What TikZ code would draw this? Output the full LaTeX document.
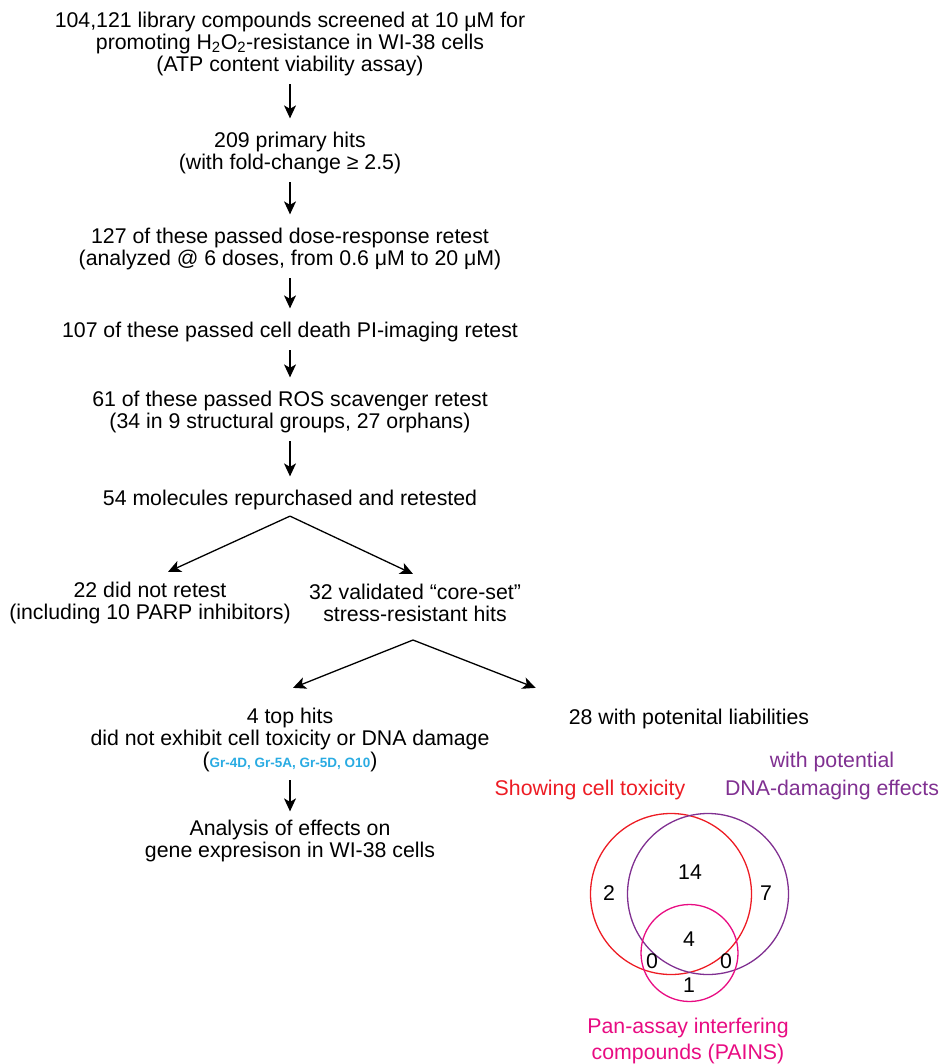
\documentclass[tikz,border=0pt]{standalone}
\usepackage{fontspec}
\setmainfont{Liberation Sans}
\usetikzlibrary{arrows.meta}

\definecolor{toxred}{RGB}{237,28,36}
\definecolor{dnapurple}{RGB}{128,48,145}
\definecolor{painspink}{RGB}{232,12,130}
\definecolor{hitblue}{RGB}{41,171,226}

\tikzset{
  stage/.style={align=center, inner sep=0pt, font=\fontsize{21.3}{22}\selectfont},
  flow/.style={draw, line width=1.3pt, -{Stealth[length=13pt,width=12pt,inset=3.5pt]}},
  down/.style={flow, shorten <=8pt, shorten >=13.5pt},
  setring/.style={circle, draw, line width=1.3pt, inner sep=0pt},
  count/.style={inner sep=0pt, font=\fontsize{21.3}{22}\selectfont},
}

\begin{document}
\begin{tikzpicture}[x=1pt, y=-1pt]
  \useasboundingbox (0,0) rectangle (940,1064);

  % --- Screening funnel ---
  \node[stage] (screen) at (290,44) {104,121 library compounds screened at 10 μM for\\
    promoting H\textsubscript{2}O\textsubscript{2}-resistance in WI-38 cells\\
    (ATP content viability assay)};
  \node[stage] (hits) at (290,153) {209 primary hits\\(with fold-change ≥ 2.5)};
  \node[stage] (dose) at (290,249) {127 of these passed dose-response retest\\
    (analyzed @ 6 doses, from 0.6 μM to 20 μM)};
  \node[stage] (pi) at (290,332) {107 of these passed cell death PI-imaging retest};
  \node[stage] (ros) at (290,412) {61 of these passed ROS scavenger retest\\
    (34 in 9 structural groups, 27 orphans)};
  \node[stage] (mol) at (290,500) {54 molecules repurchased and retested};

  \draw[down] (screen) -- (hits);
  \draw[down] (hits) -- (dose);
  \draw[down] (dose) -- (pi);
  \draw[down] (pi) -- (ros);
  \draw[down] (ros) -- (mol);

  % --- First split ---
  \node[stage] (notre) at (150,603) {22 did not retest\\(including 10 PARP inhibitors)};
  \node[stage] (core) at (415,603) {32 validated “core-set”\\stress-resistant hits};
  \coordinate (fork1) at ([yshift=-6pt]mol.south);
  \draw[flow] (fork1) -- ([xshift=18pt,yshift=10pt]notre.north);
  \draw[flow] (fork1) -- ([xshift=-2pt,yshift=10pt]core.north);

  % --- Second split ---
  \node[stage] (top4) at (290,740) {4 top hits\\did not exhibit cell toxicity or DNA damage\\
    ({\fontsize{13.5}{22}\selectfont\bfseries\color{hitblue}Gr-4D, Gr-5A, Gr-5D, O10})};
  \node[stage] (liab) at (689,719) {28 with potenital liabilities};
  \coordinate (fork2) at ([xshift=-2pt,yshift=-18pt]core.south);
  \draw[flow] (fork2) -- ([xshift=3pt,yshift=20pt]top4.north);
  \draw[flow] (fork2) -- ([xshift=-33pt,yshift=21pt]liab.north west);

  \node[stage] (analysis) at (290,841) {Analysis of effects on\\gene expresison in WI-38 cells};
  \draw[flow, shorten <=8pt, shorten >=8.5pt] (top4) -- (analysis);

  % --- Liabilities Venn ---
  \node[setring, draw=toxred, minimum size=161pt] (toxset) at (671,894) {};
  \node[setring, draw=dnapurple, minimum size=161pt] (dnaset) at (708,894) {};
  \node[setring, draw=painspink, minimum size=97pt] (painsset) at (689.5,953) {};

  \node[stage, text=toxred] (toxlab) at (590,790) {Showing cell toxicity};
  \node[stage, text=dnapurple] (dnalab) at (832,776) {with potential\\[6pt]DNA-damaging effects};
  \node[stage, text=painspink] (painslab) at (688,1041) {Pan-assay interfering\\[4pt]compounds (PAINS)};

  \node[count] (n14) at (690,872) {14};
  \node[count] (n2) at (609,893) {2};
  \node[count] (n7) at (766,893) {7};
  \node[count] (n4) at (689,939) {4};
  \node[count] (n0a) at (652,961) {0};
  \node[count] (n0b) at (726,961) {0};
  \node[count] (n1) at (689,985) {1};

\end{tikzpicture}
\end{document}
